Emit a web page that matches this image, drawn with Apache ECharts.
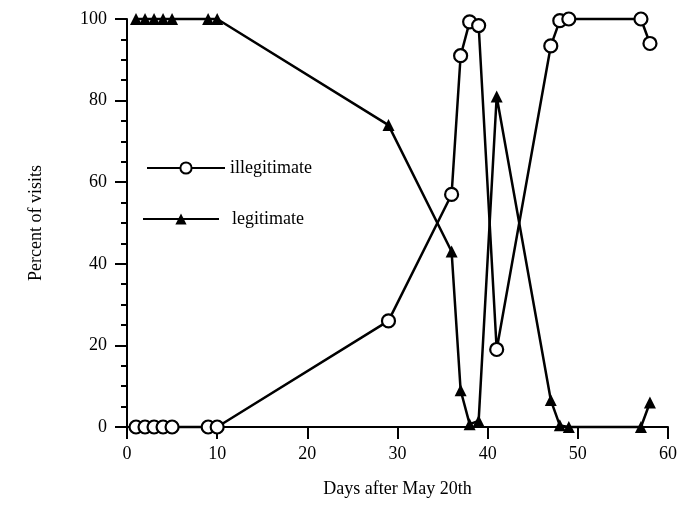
<!DOCTYPE html>
<html>
<head>
<meta charset="utf-8">
<script src="https://cdn.jsdelivr.net/npm/echarts@6/dist/echarts.min.js"></script>
<style>
  html, body { margin: 0; padding: 0; background: #fff; }
  #chart { width: 680px; height: 507px; }
</style>
</head>
<body>
<div id="chart"></div>
<script>
// Observation days (days after May 20th)
const days = [1, 2, 3, 4, 5, 9, 10, 29, 36, 37, 38, 39, 41, 47, 48, 49, 57, 58];
// Percent of visits that were illegitimate / legitimate on each day
const illegitimate = [0, 0, 0, 0, 0, 0, 0, 26, 57, 91, 99.3, 98.4, 19, 93.4, 99.6, 100, 100, 94];
const legitimate = [100, 100, 100, 100, 100, 100, 100, 74, 43, 9, 0.7, 1.5, 81, 6.6, 0.4, 0, 0, 6];

const xTicks = { min: 0, max: 60, interval: 10 };
const yTicks = { min: 0, max: 100, interval: 20 };

const serif = '"Liberation Serif", "Times New Roman", serif';

function pairs(xs, ys) {
  return xs.map((x, i) => [x, ys[i]]);
}

const chart = echarts.init(document.getElementById('chart'), null, { renderer: 'canvas' });

const legendBase = {
  orient: 'vertical',
  itemWidth: 78,
  itemHeight: 14,
  selectedMode: false
};

chart.setOption({
  animation: false,
  backgroundColor: '#fff',
  grid: { left: 127, right: 10, top: 19, bottom: 80, containLabel: false },
  legend: [
    Object.assign({}, legendBase, {
      data: ['illegitimate'], left: 141, top: 154,
      textStyle: { fontFamily: serif, fontSize: 18, color: '#000' }
    }),
    Object.assign({}, legendBase, {
      data: ['legitimate'], left: 137, top: 205, itemWidth: 76,
      textStyle: { fontFamily: serif, fontSize: 18, color: '#000', padding: [0, 0, 0, 8] }
    })
  ],
  xAxis: {
    type: 'value',
    min: xTicks.min,
    max: xTicks.max,
    interval: xTicks.interval,
    name: 'Days after May 20th',
    nameLocation: 'middle',
    nameGap: 53,
    nameTextStyle: { fontFamily: serif, fontSize: 18, color: '#000' },
    axisLine: { show: true, onZero: false, lineStyle: { color: '#000', width: 2 } },
    axisTick: { show: true, inside: false, length: 12, lineStyle: { color: '#000', width: 2 } },
    axisLabel: { fontFamily: serif, fontSize: 18, color: '#000', margin: 18 },
    splitLine: { show: false }
  },
  yAxis: {
    type: 'value',
    min: yTicks.min,
    max: yTicks.max,
    interval: yTicks.interval,
    name: 'Percent of visits',
    nameLocation: 'middle',
    nameGap: 82,
    nameRotate: 90,
    nameTextStyle: { fontFamily: serif, fontSize: 18, color: '#000' },
    axisLine: { show: true, onZero: false, lineStyle: { color: '#000', width: 2 } },
    axisTick: { show: true, inside: false, length: 12, lineStyle: { color: '#000', width: 2 } },
    minorTick: { show: true, splitNumber: 4, length: 6, lineStyle: { color: '#000', width: 2 } },
    axisLabel: { fontFamily: serif, fontSize: 18, color: '#000', margin: 20 },
    splitLine: { show: false }
  },
  series: [
    {
      name: 'illegitimate',
      type: 'line',
      data: pairs(days, illegitimate),
      clip: false,
      symbol: 'circle',
      symbolSize: 13,
      showAllSymbol: true,
      lineStyle: { color: '#000', width: 2.5 },
      itemStyle: { color: '#fff', borderColor: '#000', borderWidth: 2.2 },
      z: 3
    },
    {
      name: 'legitimate',
      type: 'line',
      data: pairs(days, legitimate),
      clip: false,
      symbol: 'triangle',
      symbolSize: [12, 12],
      showAllSymbol: true,
      lineStyle: { color: '#000', width: 2.5 },
      itemStyle: { color: '#000', borderColor: '#000', borderWidth: 0 },
      z: 2
    }
  ]
});
</script>
</body>
</html>
